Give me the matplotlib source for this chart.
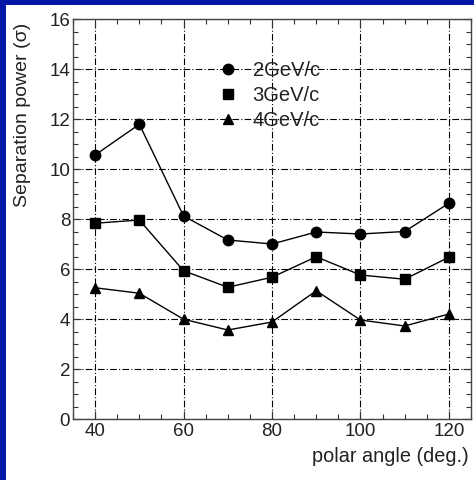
from matplotlib import pyplot as plt
from matplotlib.patches import Rectangle
from matplotlib.ticker import MultipleLocator
import numpy as np

plt.rcParams['font.family'] = ['Liberation Sans', 'DejaVu Sans']

angles = [40, 50, 60, 70, 80, 90, 100, 110, 120]
sep_2gev = [10.56, 11.79, 8.12, 7.16, 7.0, 7.48, 7.4, 7.5, 8.63]
sep_3gev = [7.83, 7.96, 5.93, 5.27, 5.67, 6.49, 5.76, 5.59, 6.47]
sep_4gev = [5.25, 5.03, 3.99, 3.56, 3.88, 5.13, 3.96, 3.72, 4.2]

series = [("2GeV/c", sep_2gev, 'o', 7.5),
          ("3GeV/c", sep_3gev, 's', 7.0),
          ("4GeV/c", sep_4gev, '^', 7.5)]

fig = plt.figure(figsize=(4.74, 4.80), dpi=100)
fig.patch.set_facecolor('#0418a8')
fig.patches.append(Rectangle((6/474, 0), 1, 475/480, transform=fig.transFigure,
                             facecolor='white', edgecolor='none', zorder=-10))

ax = fig.add_axes([73/474, 61/480, 398/474, 400/480])
ax.set_zorder(5)

for label, vals, mk, ms in series:
    ax.plot(angles, vals, color='black', linewidth=1.0, marker=mk, markersize=ms,
            mfc='black', mec='black', label=label, zorder=3)

ax.set_xlim(35, 125)
ax.set_ylim(0, 16)
ax.xaxis.set_major_locator(MultipleLocator(20))
ax.xaxis.set_minor_locator(MultipleLocator(5))
ax.yaxis.set_major_locator(MultipleLocator(2))
ax.yaxis.set_minor_locator(MultipleLocator(0.5))
ax.tick_params(which='both', direction='in', top=True, right=True, labelsize=13.5,
               colors='#333333', labelcolor='#222222')
ax.tick_params(which='major', length=6, width=0.8)
ax.tick_params(which='minor', length=3.5, width=0.8)
ax.tick_params(axis='x', pad=3)
ax.tick_params(axis='y', pad=2)
ax.grid(True, which='major', color='black', linestyle='-.', linewidth=0.8, dashes=(6, 2, 1, 2))
for sp in ax.spines.values():
    sp.set_color('#444444')
    sp.set_linewidth(1.0)

fig.text(23/474, 1 - 115/480, "Separation power (σ)", fontsize=14, rotation=90,
         ha='center', va='center', color='#222222')
fig.text(469/474, 1 - 457/480, "polar angle (deg.)", fontsize=14.3, ha='right', va='center',
         color='#222222')

leg = ax.legend(loc='upper left', bbox_to_anchor=(0.317, 0.94), frameon=False, fontsize=14.5,
                handlelength=1.1, handletextpad=0.65, labelspacing=0.3,
                markerscale=1.0)
for h in leg.legend_handles:
    h.set_linestyle('')
for t in leg.get_texts():
    t.set_color('#222222')

fig.savefig('out.png', dpi=100, facecolor=fig.get_facecolor())
